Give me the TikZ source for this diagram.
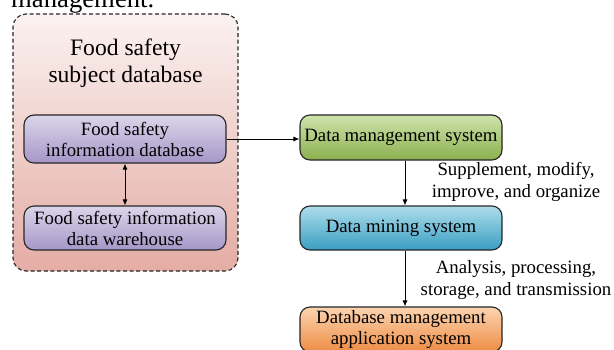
\documentclass[tikz,border=0pt]{standalone}
\usepackage{fontspec}
\setmainfont{Liberation Serif}
\usetikzlibrary{arrows.meta}

\definecolor{panelTop}{HTML}{FBF2F1}
\definecolor{panelBot}{HTML}{E4ACA4}
\definecolor{purpTop}{HTML}{DCD5EA}
\definecolor{purpBot}{HTML}{A597C7}
\definecolor{greenTop}{HTML}{CFE3AC}
\definecolor{greenBot}{HTML}{8BB04F}
\definecolor{blueTop}{HTML}{AEDDEB}
\definecolor{blueBot}{HTML}{3A9EC2}
\definecolor{orangeTop}{HTML}{FCD4B0}
\definecolor{orangeBot}{HTML}{EE8C44}

\tikzset{
  boxtext/.style={font=\fontsize{18.8}{21}\selectfont, align=center, text=black},
  sysbox/.style={boxtext, draw=black!85, line width=1.1pt, rounded corners=10pt,
                 minimum width=202pt, inner sep=0pt},
  panel/.style={draw=black!85, dash pattern=on 4pt off 2.6pt, line width=1.1pt,
                rounded corners=13pt, top color=panelTop, bottom color=panelBot},
  arr/.style={line width=0.9pt, -{Latex[length=6pt,width=5pt]}},
  dblarr/.style={line width=0.9pt, {Latex[length=6pt,width=5pt]}-{Latex[length=6pt,width=5pt]}},
  note/.style={font=\fontsize{18.8}{22}\selectfont, align=center, inner sep=0pt}
}

\begin{document}
\begin{tikzpicture}[x=1pt, y=-1pt]
  \clip (0,0) rectangle (614,349);
  \fill[white] (0,0) rectangle (614,349);

  % caption line running in from the page above
  \node[anchor=base west, inner sep=0pt, font=\fontsize{26.7}{30}\selectfont]
    (caption) at (11,7.5) {management.};

  % subject database panel
  \node[panel, minimum width=225pt, minimum height=257pt] (panel) at (125.5,142.5) {};
  \node[font=\fontsize{23.6}{27}\selectfont, align=center, inner sep=0pt]
    (title) at (125.5,63.5) {Food safety\\subject database};

  \node[sysbox, minimum height=48pt, top color=purpTop, bottom color=purpBot]
    (infodb) at (125,139) {Food safety\\information database};
  \node[sysbox, minimum height=44pt, top color=purpTop, bottom color=purpBot]
    (warehouse) at (125,228) {Food safety information\\data warehouse};

  % system chain
  \node[sysbox, minimum height=45pt, top color=greenTop, bottom color=greenBot]
    (dms) at (401,137.5) {Data management system};
  \node[sysbox, minimum height=44pt, top color=blueTop, bottom color=blueBot]
    (mining) at (401,228) {Data mining system};
  \node[sysbox, minimum height=45pt, top color=orangeTop, bottom color=orangeBot]
    (app) at (401,329.5) {Database management\\application system};

  % step labels
  \node[note] (lab1) at (516,181.5) {Supplement, modify,\\improve, and organize};
  \node[note] (lab2) at (516,280.5) {Analysis, processing,\\storage, and transmission};

  % connectors
  \draw[dblarr] (infodb.south) -- (warehouse.north);
  \draw[arr] (infodb.east) -- (infodb.east -| dms.west);
  \draw[arr] ([xshift=4pt]dms.south) -- ([xshift=4pt]mining.north);
  \draw[arr] ([xshift=4pt]mining.south) -- ([xshift=4pt]app.north);
\end{tikzpicture}
\end{document}
